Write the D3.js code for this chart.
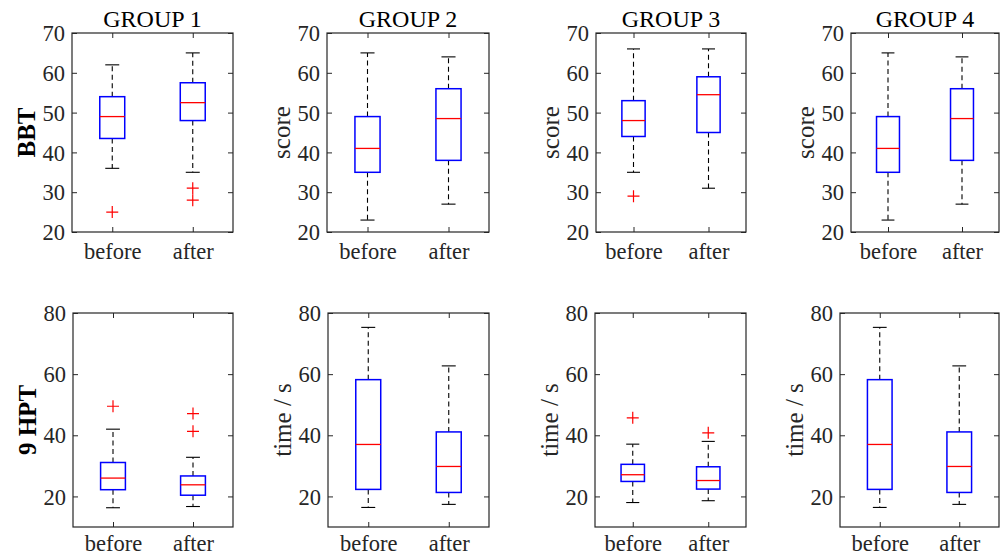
<!DOCTYPE html>
<html>
<head>
<meta charset="utf-8">
<script src="https://cdn.jsdelivr.net/npm/d3@7"></script>
<style>
  html, body { margin: 0; padding: 0; background: #fff; }
  svg { display: block; }
</style>
</head>
<body>
<svg id="chart" width="1000" height="557"></svg>
<script>
// ---------------- DATA ----------------
const groups = ["GROUP 1", "GROUP 2", "GROUP 3", "GROUP 4"];
const conditions = ["before", "after"];
const bbtYLabels = ["BBT", "score", "score", "score"];
const hptYLabels = ["9 HPT", "time / s", "time / s", "time / s"];
const bbtTicks = [20, 30, 40, 50, 60, 70];
const hptTicks = [20, 40, 60, 80];
const bbtDomain = [20, 70];
const hptDomain = [10, 80];

// [lower whisker, Q1, median, Q3, upper whisker]
const bbtBefore = [[36, 43.5, 49, 54, 62], [23, 35, 41, 49, 65], [35, 44, 48, 53, 66], [23, 35, 41, 49, 65]];
const bbtAfter  = [[35, 48, 52.5, 57.5, 65], [27, 38, 48.5, 56, 64], [31, 45, 54.5, 59, 66], [27, 38, 48.5, 56, 64]];
const bbtOutBefore = [[25], [], [29], []];
const bbtOutAfter  = [[31, 28], [], [], []];

const hptBefore = [[16.3, 22.2, 26, 31.1, 42], [16.4, 22.3, 37, 58.2, 75.3], [18, 24.9, 27.1, 30.5, 37.1], [16.4, 22.3, 37, 58.2, 75.3]];
const hptAfter  = [[16.7, 20.4, 23.8, 26.7, 32.8], [17.4, 21.3, 29.8, 41.1, 62.7], [18.6, 22.4, 25.2, 29.7, 38], [17.4, 21.3, 29.8, 41.1, 62.7]];
const hptOutBefore = [[49.5], [], [45.7], []];
const hptOutAfter  = [[47.1, 41.3], [], [40.8], []];

// ---------------- LAYOUT ----------------
const topRow = { top: 33, bottom: 232, lefts: [72, 327, 596, 851], rights: [233, 489, 746, 999], xlabOffset: 27 };
const botRow = { top: 313, bottom: 527, lefts: [73, 328, 595, 840], rights: [233, 489, 746, 999], xlabOffset: 24 };

const FONT = '"Liberation Serif", "Times New Roman", Times, serif';
const svg = d3.select("#chart");
const axisColor = "#262626";
const tickFont = 22.5, labelFont = 25, titleFont = 24;

function drawPanel(row, i, domain, ticks, before, after, outB, outA, ylabel, bold, title) {
  const L = row.lefts[i], R = row.rights[i], T = row.top, B = row.bottom;
  const x = d3.scaleLinear().domain([0.5, 2.5]).range([L, R]);
  const y = d3.scaleLinear().domain(domain).range([B, T]);
  const g = svg.append("g");

  const xb = d3.axisBottom(x).tickValues([1, 2]).tickFormat(d => conditions[d - 1]).tickSizeInner(-5).tickSizeOuter(0);
  const gxb = g.append("g").attr("transform", `translate(0,${B})`).call(xb);
  const xt = d3.axisTop(x).tickValues([1, 2]).tickFormat("").tickSizeInner(-5).tickSizeOuter(0);
  const gxt = g.append("g").attr("transform", `translate(0,${T})`).call(xt);
  const yl = d3.axisLeft(y).tickValues(ticks).tickSizeInner(-5).tickSizeOuter(0).tickPadding(7);
  const gyl = g.append("g").attr("transform", `translate(${L},0)`).call(yl);
  const yr = d3.axisRight(y).tickValues(ticks).tickFormat("").tickSizeInner(-5).tickSizeOuter(0);
  const gyr = g.append("g").attr("transform", `translate(${R},0)`).call(yr);
  [gxb, gxt, gyl, gyr].forEach(a => {
    a.select(".domain").remove();
    a.selectAll("line").attr("stroke", axisColor).attr("stroke-width", 1);
    a.selectAll("text").attr("font-size", tickFont).style("font-family", FONT).attr("fill", axisColor);
  });
  gxb.selectAll("text").attr("y", row.xlabOffset).attr("dy", 0);
  gyl.selectAll("text").attr("dy", "0.34em");
  g.append("rect").attr("x", L).attr("y", T).attr("width", R - L).attr("height", B - T)
    .attr("fill", "none").attr("stroke", axisColor).attr("stroke-width", 1.2);

  const bw = (x(2) - x(1)) * 0.31;
  const cw = bw * 0.56;
  const stats = [before, after];
  const outs = [outB, outA];
  stats.forEach((s, k) => {
    const cx = x(k + 1);
    g.append("line").attr("x1", cx).attr("x2", cx).attr("y1", y(s[3])).attr("y2", y(s[4]))
      .attr("stroke", "#000").attr("stroke-width", 1.1).attr("stroke-dasharray", "5,3.5");
    g.append("line").attr("x1", cx).attr("x2", cx).attr("y1", y(s[1])).attr("y2", y(s[0]))
      .attr("stroke", "#000").attr("stroke-width", 1.1).attr("stroke-dasharray", "5,3.5");
    [s[0], s[4]].forEach(v => {
      g.append("line").attr("x1", cx - cw / 2).attr("x2", cx + cw / 2).attr("y1", y(v)).attr("y2", y(v))
        .attr("stroke", "#000").attr("stroke-width", 1.1);
    });
    g.append("rect").attr("x", cx - bw / 2).attr("y", y(s[3])).attr("width", bw).attr("height", y(s[1]) - y(s[3]))
      .attr("fill", "none").attr("stroke", "#0000ff").attr("stroke-width", 1.5);
    g.append("line").attr("x1", cx - bw / 2).attr("x2", cx + bw / 2).attr("y1", y(s[2])).attr("y2", y(s[2]))
      .attr("stroke", "#ff0000").attr("stroke-width", 1.3);
    outs[k].forEach(v => {
      const py = y(v), h = 6;
      g.append("path").attr("d", `M${cx - h},${py}H${cx + h}M${cx},${py - h}V${py + h}`)
        .attr("stroke", "#ff0000").attr("stroke-width", 1.2).attr("fill", "none");
    });
  });

  g.append("text")
    .attr("transform", `translate(${L - 37},${(T + B) / 2}) rotate(-90)`)
    .attr("text-anchor", "middle")
    .attr("font-size", labelFont)
    .style("font-family", FONT)
    .attr("font-weight", bold ? "bold" : "normal")
    .attr("fill", bold ? "#000" : axisColor)
    .text(ylabel);

  if (title) {
    g.append("text").attr("x", (L + R) / 2).attr("y", T - 6)
      .attr("text-anchor", "middle").attr("font-size", titleFont).style("font-family", FONT)
      .attr("fill", "#000").text(title);
  }
}

for (let i = 0; i < 4; i++) {
  drawPanel(topRow, i, bbtDomain, bbtTicks, bbtBefore[i], bbtAfter[i], bbtOutBefore[i], bbtOutAfter[i], bbtYLabels[i], i === 0, groups[i]);
  drawPanel(botRow, i, hptDomain, hptTicks, hptBefore[i], hptAfter[i], hptOutBefore[i], hptOutAfter[i], hptYLabels[i], i === 0, null);
}
</script>
</body>
</html>
